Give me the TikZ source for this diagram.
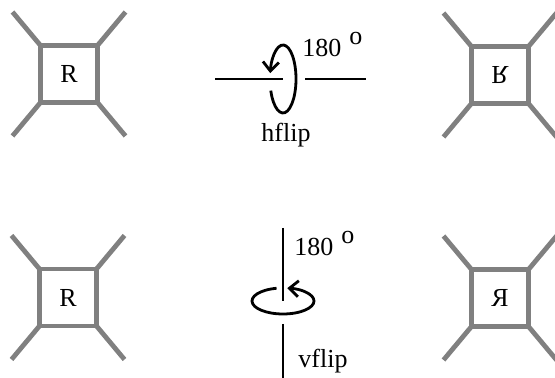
\documentclass[tikz,border=0pt]{standalone}
\usepackage{fontspec}
\setmainfont{Liberation Serif}
\usetikzlibrary{arrows.meta}
\tikzset{
  sqbox/.style={draw=gray,line width=2.4pt,minimum size=28.5pt,inner sep=0pt,outer sep=0pt,
    font=\fontsize{13}{15}\selectfont},
  leg/.style={gray,line width=2.4pt},
  axis/.style={line width=1.4pt},
  turn/.style={line width=1.4pt,-{Straight Barb[length=4.5pt,width=8pt]}},
  lbl/.style={font=\fontsize{13}{15}\selectfont,inner sep=0pt}
}
\begin{document}
\begin{tikzpicture}[x=0.5pt,y=0.5pt]
\clip (0,0) rectangle (555,378);
% frames with legs
\node[sqbox] (r1) at (69,304) {R};
\node[sqbox] (r2) at (500,303) {\scalebox{1}[-1]{R}};
\node[sqbox] (r3) at (68,80.5) {R};
\node[sqbox] (r4) at (500,80) {\scalebox{-1}[1]{R}};
\foreach \n in {r1,r2,r3,r4}{
  \draw[leg] (\n.north west) -- ++(-28,33.5);
  \draw[leg] (\n.north east) -- ++(28,33.5);
  \draw[leg] (\n.south west) -- ++(-28,-33.5);
  \draw[leg] (\n.south east) -- ++(28,-33.5);
}
% hflip
\coordinate (hl) at (215,299);
\coordinate (hc) at (283,299);
\coordinate (hr) at (305,299);
\coordinate (he) at (366,299);
\draw[turn] ([shift={(200:13 and 34)}]hc) arc[start angle=200,end angle=530,x radius=13,y radius=34];
\draw[axis] (hl) -- (hc);
\draw[axis] (hr) -- (he);
\node[lbl,anchor=base west] (deg1) at (302,321) {180\hspace{4pt}\raisebox{6pt}{o}};
\node[lbl,anchor=base] (hname) at (286,236) {hflip};
% vflip
\coordinate (vt) at (283,150);
\coordinate (vc) at (283,77);
\coordinate (vb) at (283,54);
\coordinate (ve) at (283,0);
\draw[turn] ([shift={(102:31 and 13)}]vc) arc[start angle=102,end angle=442,x radius=31,y radius=13];
\draw[axis] (vt) -- (vc);
\draw[axis] (vb) -- (ve);
\node[lbl,anchor=base west] (deg2) at (294,122) {180\hspace{4pt}\raisebox{6pt}{o}};
\node[lbl,anchor=base west] (vname) at (298,10) {vflip};
\end{tikzpicture}
\end{document}
